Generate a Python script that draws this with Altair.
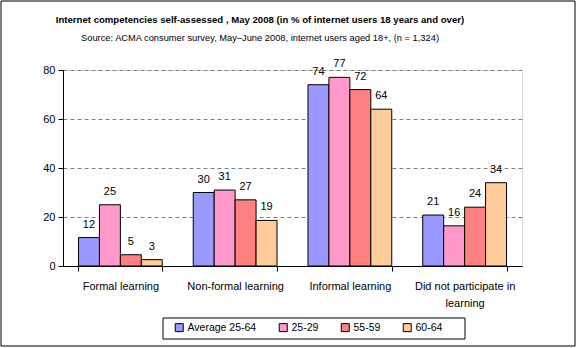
import altair as alt
import pandas as pd

title_text = "Internet competencies self-assessed , May 2008 (in % of internet users 18 years and over)"
subtitle_text = "Source: ACMA consumer survey, May–June 2008, internet users aged 18+, (n = 1,324)"
categories = ["Formal learning", "Non-formal learning", "Informal learning", "Did not participate in learning"]
series = ["Average 25-64", "25-29", "55-59", "60-64"]
colors = ["#9999FF", "#FF99CC", "#FF8080", "#FFCC99"]
avg_25_64 = [11.6, 30, 74, 20.8]
age_25_29 = [25, 31, 77, 16.4]
age_55_59 = [4.6, 27, 72, 24]
age_60_64 = [2.6, 18.6, 64, 34]

rows = []
for s, vals in zip(series, [avg_25_64, age_25_29, age_55_59, age_60_64]):
    for c, v in zip(categories, vals):
        rows.append({"category": c, "series": s, "value": v})
df = pd.DataFrame(rows)

FONT = "Liberation Sans"

base = alt.Chart(df).encode(
    x=alt.X("category:N", sort=categories, title=None,
            scale=alt.Scale(paddingInner=0.27, paddingOuter=0.135),
            axis=alt.Axis(labelAngle=0, tickBand="extent", tickSize=5, labelPadding=9,
                          labelFontSize=11, labelColor="black", domainColor="black",
                          tickColor="black", labelFont=FONT, labelLineHeight=17,
                          labelExpr="datum.value == 'Did not participate in learning' ? ['Did not participate in', 'learning'] : datum.value")),
    xOffset=alt.XOffset("series:N", sort=series),
)

bars = base.mark_bar(stroke="black", strokeWidth=1).encode(
    y=alt.Y("value:Q", title=None, scale=alt.Scale(domain=[0, 80]),
            axis=alt.Axis(values=[0, 20, 40, 60, 80], tickSize=5, labelFontSize=11,
                          labelColor="black", domainColor="black", tickColor="black",
                          gridColor="#808080", gridDash=[4, 3], labelFont=FONT, labelPadding=3)),
    color=alt.Color("series:N", sort=series, scale=alt.Scale(domain=series, range=colors),
                    legend=alt.Legend(title=None, orient="none", direction="horizontal",
                                      legendX=111, legendY=252, columns=4, columnPadding=20,
                                      symbolType="square", symbolSize=64, symbolStrokeColor="black",
                                      symbolStrokeWidth=1, labelFontSize=10.5, labelFont=FONT,
                                      labelColor="black", labelOffset=3, symbolOpacity=1)),
)

texts = base.mark_text(baseline="bottom", dy=-8, fontSize=11, font=FONT, color="black").encode(
    y="value:Q",
    text=alt.Text("value:Q", format=".0f"),
)

tdf = pd.DataFrame({"t": [title_text]})
sdf = pd.DataFrame({"t": [subtitle_text]})
title_mark = alt.Chart(tdf).mark_text(font=FONT, fontSize=9.6, fontWeight="bold", color="black",
                                      align="center", baseline="middle").encode(
    text="t:N", x=alt.value(197), y=alt.value(-50))
subtitle_mark = alt.Chart(sdf).mark_text(font=FONT, fontSize=9.3, color="black",
                                         align="center", baseline="middle").encode(
    text="t:N", x=alt.value(197), y=alt.value(-32))

frames = alt.Chart(pd.DataFrame({"k": [0]})).mark_rect(fill=None, stroke="black", strokeWidth=1).encode(
    x=alt.value(-62), x2=alt.value(512), y=alt.value(-69), y2=alt.value(276)
)
legend_box = alt.Chart(pd.DataFrame({"k": [0]})).mark_rect(fill=None, stroke="black", strokeWidth=1).encode(
    x=alt.value(100), x2=alt.value(402), y=alt.value(248), y2=alt.value(269)
)

chart = alt.layer(bars, texts, title_mark, subtitle_mark, frames, legend_box).properties(
    width=459, height=196,
    autosize=alt.AutoSizeParams(type="none"),
    padding={"left": 63, "top": 70, "right": 54, "bottom": 82},
).configure_view(stroke=None).configure(background="white")

chart.save("out.html", embed_options={"renderer": "svg", "actions": False})
